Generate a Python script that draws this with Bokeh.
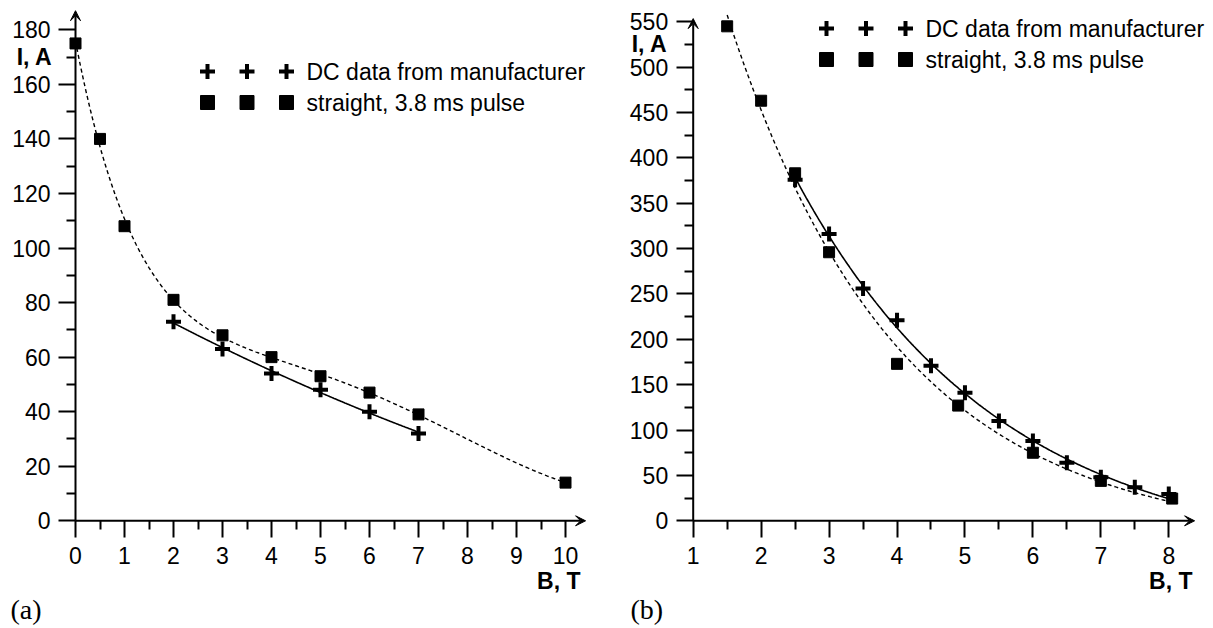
import numpy as np
from bokeh.plotting import figure
from bokeh.layouts import row
from bokeh.models import LinearAxis, FixedTicker, Arrow, VeeHead
from bokeh.core.properties import value
from bokeh.embed import file_html
from bokeh.resources import INLINE

# ---------------- data ----------------
# panel (a)
a_dc_B = [2, 3, 4, 5, 6, 7]
a_dc_I = [73, 63, 54, 48, 40, 32]
a_pulse_B = [0, 0.5, 1, 2, 3, 4, 5, 6, 7, 10]
a_pulse_I = [175, 140, 108, 81, 68, 60, 53, 47, 39, 14]
a_xticks = [0, 1, 2, 3, 4, 5, 6, 7, 8, 9, 10]
a_yticks = [0, 20, 40, 60, 80, 100, 120, 140, 160, 180]

# panel (b)
b_dc_B = [2.5, 3, 3.5, 4, 4.5, 5, 5.5, 6, 6.5, 7, 7.5, 8]
b_dc_I = [376, 316, 256, 221, 171, 141, 110, 88, 64, 48, 37, 29.5]
b_pulse_B = [1.5, 2, 2.5, 3, 4, 4.9, 6, 7, 8.05]
b_pulse_I = [545, 463, 383, 296, 173, 127, 75, 44, 24.5]
b_xticks = [1, 2, 3, 4, 5, 6, 7, 8]
b_yticks = [0, 50, 100, 150, 200, 250, 300, 350, 400, 450, 500, 550]

legend_labels = ["DC data from manufacturer", "straight,  3.8 ms pulse"]

FONT = "Liberation Sans"
FS = "23px"


def basis_fit(xs, ys, use_exp=True, deg=3, n=300):
    """Least-squares fit with basis exp(-x/tau) + polynomial of given degree."""
    xs = np.asarray(xs, float); ys = np.asarray(ys, float)
    taus = np.linspace(0.15, 8, 1500) if use_exp else [None]
    best = None
    for tau in taus:
        cols = [xs ** d for d in range(deg + 1)]
        if tau is not None:
            cols = [np.exp(-xs / tau)] + cols
        D = np.column_stack(cols)
        c = np.linalg.lstsq(D, ys, rcond=None)[0]
        err = np.sum((D @ c - ys) ** 2)
        if best is None or err < best[0]:
            best = (err, tau, c)
    _, tau, c = best
    xx = np.linspace(xs[0], xs[-1], n)
    cols = [xx ** d for d in range(deg + 1)]
    if tau is not None:
        cols = [np.exp(-xx / tau)] + cols
    return xx, np.column_stack(cols) @ c


def make_panel(width, height, page_left, x0px, xppu, xorig, y0px, yppu,
               xticks, xminor, yticks, yminor, xarrow, yarrow):
    page_top = 0
    xs = xorig + (page_left - x0px) / xppu
    xe = xorig + (page_left + width - x0px) / xppu
    ye = (y0px - page_top) / yppu
    ys = (y0px - (page_top + height)) / yppu
    p = figure(width=width, height=height, x_range=(xs, xe), y_range=(ys, ye),
               output_backend="svg", toolbar_location=None, min_border=0,
               x_axis_type=None, y_axis_type=None)
    p.outline_line_color = None
    p.background_fill_color = "white"
    p.border_fill_color = "white"

    def px2x(px):
        return xorig + (px - x0px) / xppu

    def py2y(py):
        return (y0px - py) / yppu

    common = dict(major_tick_in=0, major_tick_out=17, minor_tick_in=0, minor_tick_out=9,
                  major_tick_line_width=2, minor_tick_line_width=2,
                  major_tick_line_color="black", minor_tick_line_color="black",
                  axis_line_color=None,
                  major_label_text_font=FONT, major_label_text_font_size=FS,
                  major_label_text_color="black")
    xa = LinearAxis(fixed_location=0, bounds=(xticks[0], xticks[-1]),
                    ticker=FixedTicker(ticks=xticks, minor_ticks=xminor),
                    major_label_standoff=9, **common)
    ya = LinearAxis(fixed_location=xorig, bounds=(yticks[0], yticks[-1]),
                    ticker=FixedTicker(ticks=yticks, minor_ticks=yminor),
                    major_label_standoff=8, **common)
    p.add_layout(xa, "below")
    p.add_layout(ya, "left")
    p.add_layout(Arrow(x_start=xorig, y_start=0, x_end=xarrow, y_end=0, line_width=2,
                       end=VeeHead(size=10, fill_color="black", line_color="black", line_width=1)))
    p.add_layout(Arrow(x_start=xorig, y_start=0, x_end=xorig, y_end=yarrow, line_width=2,
                       end=VeeHead(size=10, fill_color="black", line_color="black", line_width=1)))
    return p, px2x, py2y


def add_texts(p, px2x, py2y, ia_px, ia_py, bt_px, bt_py, lab_px, lab, leg_px, leg_py):
    p.text(x=[px2x(ia_px)], y=[py2y(ia_py)], text=["I, A"], text_font=value(FONT),
           text_font_size=FS, text_font_style="bold", text_align="right", text_baseline="middle")
    p.text(x=[px2x(bt_px)], y=[py2y(bt_py)], text=["B, T"], text_font=value(FONT),
           text_font_size=FS, text_font_style="bold", text_align="right", text_baseline="middle")
    p.text(x=[px2x(lab_px)], y=[py2y(609)], text=[lab], text_font=value("Liberation Serif"),
           text_font_size="28px", text_align="left", text_baseline="middle")
    # legend: three symbols per entry
    lx = [px2x(leg_px + k * 39.5) for k in range(3)]
    p.scatter(x=lx, y=[py2y(leg_py)] * 3, marker="cross", size=15, line_width=4, line_color="black")
    p.scatter(x=lx, y=[py2y(leg_py + 31)] * 3, marker="square", size=14,
              fill_color="black", line_color="black")
    p.text(x=[px2x(leg_px + 99)] * 2, y=[py2y(leg_py), py2y(leg_py + 31)], text=legend_labels,
           text_font=value(FONT), text_font_size=FS, text_align="left", text_baseline="middle")


H = 626
# ---------------- panel (a) ----------------
pa, ax_, ay_ = make_panel(605, H, 0, 75, 49.0, 0, 520.3, 2.7278,
                          a_xticks, [v + 0.5 for v in a_xticks[:-1]],
                          a_yticks, [v + 10 for v in a_yticks[:-1]],
                          10.41, 187.0)
xx, yy = basis_fit(a_pulse_B, a_pulse_I, use_exp=True, deg=3)
pa.line(xx, yy, line_color="black", line_width=1.4, line_dash="4 3")
xx, yy = basis_fit(a_dc_B, a_dc_I, use_exp=False, deg=2)
pa.line(xx, yy, line_color="black", line_width=1.6)
pa.scatter(a_pulse_B, a_pulse_I, marker="square", size=11, fill_color="black", line_color="black")
pa.scatter(a_dc_B, a_dc_I, marker="cross", size=15, line_width=4, line_color="black")
add_texts(pa, ax_, ay_, 52, 56, 580, 580, 10, "(a)", 207, 71)

# ---------------- panel (b) ----------------
pb, bx_, by_ = make_panel(606, H, 605, 692.7, 67.94, 1, 520.3, 0.9073,
                          b_xticks, [v + 0.5 for v in b_xticks[:-1]],
                          b_yticks, [v + 25 for v in b_yticks[:-1]],
                          8.38, 553.5)
xx, yy = basis_fit(b_pulse_B, b_pulse_I, use_exp=True, deg=0)
pb.line(xx, yy, line_color="black", line_width=1.4, line_dash="4 3")
xx, yy = basis_fit(b_dc_B, b_dc_I, use_exp=True, deg=0)
pb.line(xx, yy, line_color="black", line_width=1.6)
pb.scatter(b_pulse_B, b_pulse_I, marker="square", size=11, fill_color="black", line_color="black")
pb.scatter(b_dc_B, b_dc_I, marker="cross", size=15, line_width=4, line_color="black")
add_texts(pb, bx_, by_, 667, 43, 1192, 580, 630, "(b)", 826, 28)

layout = row(pa, pb)
open("out.html", "w").write(file_html(layout, INLINE))
